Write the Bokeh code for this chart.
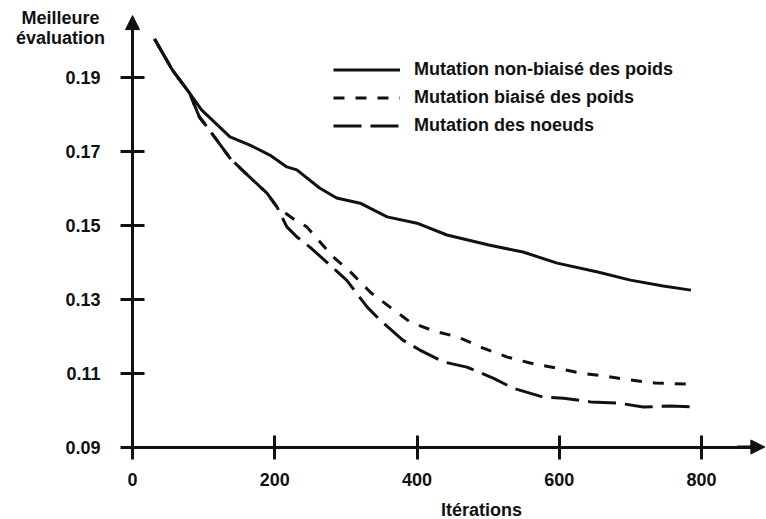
from bokeh.plotting import figure
from bokeh.models import (Range1d, FixedTicker, NumeralTickFormatter, Legend, LegendItem,
                          Label, Arrow, NormalHead)
from bokeh.embed import file_html
from bokeh.resources import INLINE

# ---- data ----
x_ticks = [0, 200, 400, 600, 800]
y_ticks = [0.09, 0.11, 0.13, 0.15, 0.17, 0.19]

iter_nonbiaise = [31, 56, 80, 97, 137, 165, 193, 217, 231, 263, 287, 320, 358, 400, 442,
                  501, 549, 597, 654, 700, 746, 785]
eval_nonbiaise = [0.2003, 0.1919, 0.1857, 0.1811, 0.1738, 0.1716, 0.1689, 0.1657, 0.1649,
                  0.1600, 0.1573, 0.1559, 0.1522, 0.1505, 0.1473, 0.1446, 0.1427, 0.1397,
                  0.1373, 0.1351, 0.1335, 0.1324]

iter_biaise = [31, 56, 80, 94, 108, 137, 154, 189, 203, 228, 245, 282, 308, 334, 362, 390,
               423, 458, 492, 527, 559, 594, 630, 662, 700, 735, 780]
eval_biaise = [0.2003, 0.1919, 0.1857, 0.1792, 0.1757, 0.1681, 0.1649, 0.1586, 0.1549,
               0.1514, 0.1495, 0.1414, 0.1370, 0.1319, 0.1278, 0.1238, 0.1214, 0.1197,
               0.1168, 0.1143, 0.1127, 0.1114, 0.1100, 0.1092, 0.1081, 0.1073, 0.1070]

iter_noeuds = [31, 56, 80, 94, 108, 137, 154, 189, 203, 217, 231, 249, 282, 301, 330, 348,
               380, 404, 437, 470, 507, 535, 577, 606, 644, 682, 718, 756, 789]
eval_noeuds = [0.2003, 0.1919, 0.1857, 0.1792, 0.1757, 0.1681, 0.1649, 0.1586, 0.1549,
               0.1495, 0.1468, 0.1441, 0.1384, 0.1351, 0.1278, 0.1243, 0.1189, 0.1162,
               0.1130, 0.1116, 0.1086, 0.1059, 0.1035, 0.1032, 0.1022, 0.1019, 0.1008,
               0.1011, 0.1008]

labels = ["Mutation non-biaisé des poids", "Mutation biaisé des poids", "Mutation des noeuds"]

FONT = "Liberation Sans"
INK = "#111111"

p = figure(width=766, height=519, output_backend="svg", toolbar_location=None,
           x_range=Range1d(-185.6, 891.3), y_range=Range1d(0.07041, 0.21068))
p.min_border = 0
p.outline_line_color = None
p.xgrid.visible = False
p.ygrid.visible = False
p.background_fill_color = "white"
p.border_fill_color = "white"

for ax in (p.xaxis[0], p.yaxis[0]):
    ax.axis_line_width = 3
    ax.axis_line_color = INK
    ax.major_tick_line_width = 3
    ax.major_tick_line_color = INK
    ax.major_tick_in = 12
    ax.major_tick_out = 12
    ax.minor_tick_line_color = None
    ax.major_label_text_font = FONT
    ax.major_label_text_font_style = "bold"
    ax.major_label_text_font_size = "18px"
    ax.major_label_text_color = INK

p.xaxis[0].fixed_location = 0.09
p.yaxis[0].fixed_location = 0
p.xaxis[0].bounds = (-14, 880)
p.yaxis[0].bounds = (0.0868, 0.205)
p.xaxis[0].ticker = FixedTicker(ticks=x_ticks)
p.yaxis[0].ticker = FixedTicker(ticks=y_ticks)
p.yaxis[0].formatter = NumeralTickFormatter(format="0.00")
p.xaxis[0].major_label_standoff = 14
p.yaxis[0].major_label_standoff = 20

r1 = p.line(iter_nonbiaise, eval_nonbiaise, line_width=3, line_color=INK)
r2 = p.line(iter_biaise, eval_biaise, line_width=3, line_color=INK, line_dash="11 11")
r3 = p.line(iter_noeuds, eval_noeuds, line_width=3, line_color=INK, line_dash="28 9")

legend = Legend(items=[LegendItem(label=labels[0], renderers=[r1]),
                       LegendItem(label=labels[1], renderers=[r2]),
                       LegendItem(label=labels[2], renderers=[r3])],
                location=(333, 383), orientation="vertical",
                glyph_width=67, glyph_height=21, label_height=21, label_standoff=14,
                spacing=7, padding=0, margin=0, border_line_color=None,
                background_fill_alpha=0,
                label_text_font=FONT, label_text_font_style="bold",
                label_text_font_size="18px", label_text_color=INK)
p.add_layout(legend)

# arrow heads on the axes
p.add_layout(Arrow(end=NormalHead(size=14, fill_color=INK, line_color=INK),
                   x_start=850, y_start=0.09, x_end=889, y_end=0.09,
                   line_width=3, line_color=INK))
p.add_layout(Arrow(end=NormalHead(size=14, fill_color=INK, line_color=INK),
                   x_start=0, y_start=0.200, x_end=0, y_end=0.2066,
                   line_width=3, line_color=INK))

def lab(x, y, t):
    p.add_layout(Label(x=x, y=y, x_units="screen", y_units="screen", text=t,
                       text_align="center", text_baseline="middle",
                       text_font=FONT, text_font_style="bold", text_font_size="18px",
                       text_color=INK))

lab(60, 502, "Meilleure")
lab(60, 482, "évaluation")
lab(481, 10, "Itérations")

open("out.html", "w").write(file_html(p, INLINE))
